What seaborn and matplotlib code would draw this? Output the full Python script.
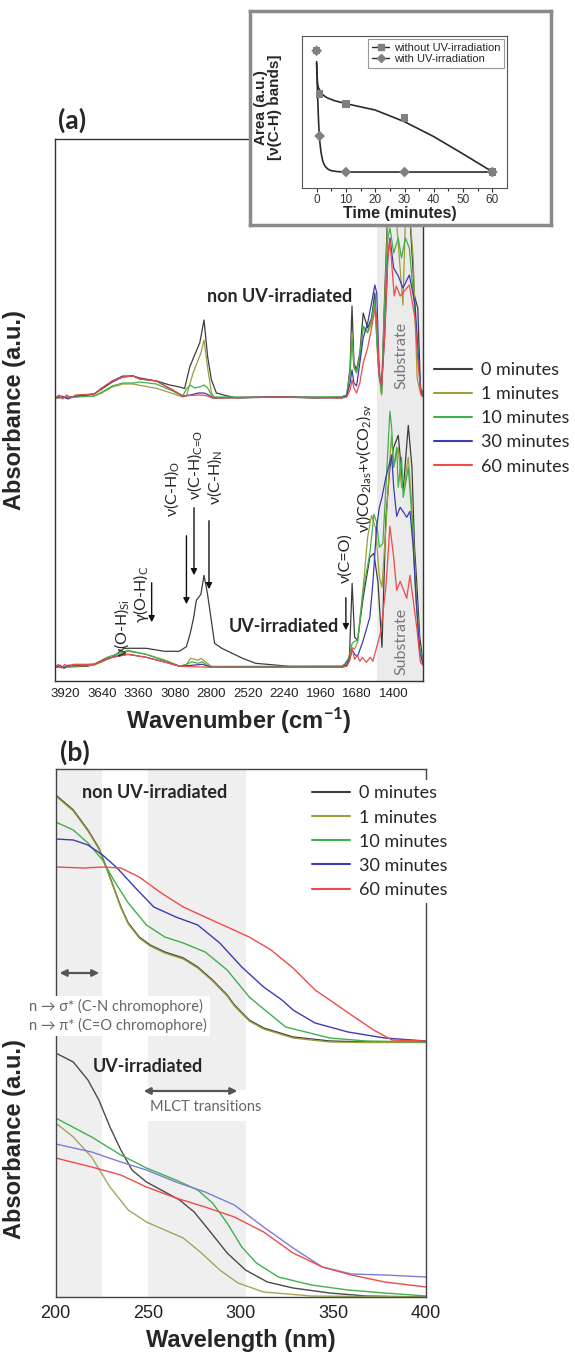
import pandas as pd
import seaborn as sns
import matplotlib.pyplot as plt
from matplotlib.lines import Line2D

# ---------------- data ----------------
times = ["0 minutes", "1 minutes", "10 minutes", "30 minutes", "60 minutes"]
colors = ["#3d3d3d", "#9d9d3c", "#3fb04e", "#3c3cae", "#f04a4a"]
colors_uv_bottom = ["#4a4a4a", "#a5a55a", "#3fb04e", "#7d7dd2", "#f04a4a"]

# FTIR (a), non UV-irradiated set: (wavenumber cm-1, absorbance above baseline)
ir_top_0 = [(4000, 0.0), (3900, 0.1), (3800, 0.2), (3700, 0.4), (3640, 0.9), (3560, 1.6), (3480, 2.1),
            (3400, 2.2), (3350, 2.0), (3220, 1.7), (3120, 1.3), (3043, 1.1), (3005, 0.95), (2966, 3.1),
            (2928, 4.3), (2889, 5.5), (2856, 7.8), (2828, 4.1), (2799, 1.8), (2761, 0.5), (2674, 0.2),
            (2600, 0.0), (2300, 0.1), (2000, 0.0), (1800, 0.1), (1760, 0.3), (1735, 3.0), (1720, 9.2),
            (1705, 3.5), (1685, 2.8), (1660, 4.5), (1634, 8.5), (1600, 7.0), (1570, 8.0), (1545, 10.5),
            (1520, 4.0), (1493, 0.5), (1470, 10.0), (1445, 19.0), (1429, 22.0), (1400, 19.5), (1365, 21.0),
            (1340, 17.5), (1310, 20.0), (1280, 19.0), (1240, 10.2), (1215, 9.0), (1195, 1.0), (1175, 0.5)]
ir_top_1 = [(4000, 0.0), (3700, 0.2), (3640, 0.5), (3560, 1.1), (3480, 1.4), (3400, 1.4), (3350, 1.27),
            (3222, 0.97), (3097, 0.45), (3020, 0.1), (2991, 0.2), (2940, 2.5), (2880, 4.5), (2856, 5.8),
            (2828, 3.0), (2799, 0.5), (2774, 0.0), (2300, 0.1), (1800, 0.1), (1760, 0.3), (1735, 2.5),
            (1720, 6.5), (1705, 3.0), (1685, 2.5), (1660, 4.0), (1634, 7.0), (1600, 6.5), (1570, 7.5),
            (1545, 9.5), (1520, 3.5), (1493, 0.3), (1470, 9.0), (1445, 18.0), (1429, 21.0), (1400, 18.5),
            (1380, 18.0), (1329, 9.3), (1310, 18.0), (1280, 19.0), (1250, 14.0), (1220, 2.0), (1195, 0.5),
            (1175, 0.3)]
ir_top_10 = [(4000, 0.0), (3700, 0.2), (3640, 0.6), (3560, 1.2), (3480, 1.5), (3400, 1.5), (3350, 1.6),
             (3222, 1.4), (3097, 0.7), (3020, 0.2), (2991, 0.9), (2960, 1.3), (2930, 1.0), (2890, 1.1),
             (2856, 1.3), (2828, 1.0), (2790, 0.1), (2300, 0.1), (1800, 0.1), (1760, 0.3), (1735, 2.5),
             (1720, 6.0), (1705, 3.0), (1685, 2.6), (1660, 4.2), (1634, 7.2), (1600, 6.6), (1570, 7.8),
             (1545, 9.8), (1520, 3.5), (1493, 0.4), (1470, 9.0), (1445, 16.0), (1429, 17.0), (1400, 14.5),
             (1365, 16.0), (1340, 14.0), (1310, 16.0), (1280, 15.0), (1240, 9.0), (1215, 5.0), (1195, 0.8),
             (1175, 0.3)]
ir_top_30 = [(4000, 0.0), (3950, 0.2), (3900, -0.1), (3850, 0.2), (3700, 0.4), (3640, 1.0), (3560, 1.7),
             (3480, 2.2), (3400, 2.2), (3350, 1.9), (3222, 1.7), (3097, 0.8), (3020, 0.2), (2960, 0.3),
             (2900, 0.5), (2856, 0.5), (2820, 0.3), (2790, 0.0), (2300, 0.1), (1800, 0.0), (1760, 0.2),
             (1735, 1.5), (1720, 2.8), (1705, 1.5), (1685, 1.2), (1660, 3.5), (1634, 6.0), (1600, 7.5),
             (1570, 9.5), (1545, 11.3), (1530, 10.5), (1510, 2.0), (1493, 1.2), (1470, 6.0), (1445, 14.0),
             (1429, 16.0), (1400, 13.0), (1365, 12.2), (1329, 11.0), (1280, 12.3), (1237, 9.5), (1210, 4.0),
             (1190, 0.5), (1175, 0.2)]
ir_top_60 = [(4000, 0.0), (3970, 0.3), (3940, -0.1), (3910, 0.3), (3880, 0.0), (3840, 0.3), (3700, 0.4),
             (3640, 1.0), (3560, 1.7), (3480, 2.1), (3400, 2.2), (3350, 1.9), (3222, 1.7), (3097, 0.8),
             (3020, 0.2), (2900, 0.3), (2856, 0.27), (2820, 0.15), (2790, 0.0), (2300, 0.1), (1800, 0.0),
             (1760, 0.1), (1735, 0.8), (1720, 1.8), (1705, 1.0), (1685, 0.5), (1660, 1.5), (1634, 3.5),
             (1600, 5.0), (1570, 7.0), (1545, 8.8), (1530, 8.0), (1510, 2.0), (1493, 1.2), (1470, 6.0),
             (1445, 14.0), (1429, 15.8), (1396, 10.2), (1380, 11.2), (1350, 10.2), (1280, 11.3), (1237, 8.0),
             (1210, 3.0), (1190, 0.3), (1175, 0.1)]

# FTIR (a), UV-irradiated set
ir_bot_0 = [(4000, 0.0), (3750, 0.1), (3650, 0.5), (3553, 1.06), (3470, 1.9), (3300, 1.9), (3160, 1.6),
            (3047, 1.6), (2991, 2.06), (2960, 3.5), (2935, 5.0), (2915, 6.7), (2880, 7.3), (2856, 9.2),
            (2830, 7.4), (2800, 4.7), (2775, 2.4), (2720, 1.9), (2640, 1.4), (2560, 0.9), (2460, 0.4),
            (2200, 0.1), (1800, 0.1), (1775, 0.3), (1740, 1.0), (1719, 8.4), (1700, 3.0), (1677, 2.7),
            (1634, 7.0), (1583, 11.0), (1552, 11.4), (1520, 8.4), (1490, 2.0), (1460, 15.0), (1429, 20.0),
            (1400, 22.0), (1365, 23.2), (1327, 17.7), (1288, 24.2), (1260, 20.0), (1240, 12.0),
            (1224, 8.7), (1200, 3.0), (1175, 0.5)]
ir_bot_1 = [(4000, 0.0), (3700, 0.2), (3600, 0.8), (3440, 1.6), (3300, 1.3), (3150, 0.7), (3040, 0.1),
            (2990, 0.3), (2960, 0.9), (2900, 0.7), (2880, 0.9), (2840, 0.5), (2800, 0.1), (1800, 0.1),
            (1760, 0.2), (1735, 0.8), (1719, 2.0), (1700, 1.8), (1677, 2.5), (1634, 8.0), (1600, 13.0),
            (1570, 15.2), (1540, 14.0), (1510, 9.0), (1490, 8.0), (1460, 14.0), (1429, 21.0), (1416, 23.2),
            (1400, 20.0), (1365, 22.0), (1340, 18.0), (1320, 17.7), (1300, 20.0), (1288, 21.0),
            (1260, 16.0), (1230, 8.0), (1200, 2.0), (1175, 0.5)]
ir_bot_10 = [(4000, 0.0), (3700, 0.3), (3600, 1.0), (3440, 1.7), (3300, 1.3), (3150, 0.6), (3040, 0.1),
             (2990, 0.3), (2950, 0.55), (2900, 0.4), (2870, 0.55), (2830, 0.2), (2800, 0.0), (1800, 0.1),
             (1760, 0.3), (1735, 1.5), (1719, 2.4), (1700, 2.6), (1677, 2.7), (1634, 7.7), (1583, 11.4),
             (1552, 15.3), (1531, 14.5), (1510, 12.0), (1483, 12.4), (1460, 18.0), (1429, 25.6),
             (1416, 24.0), (1400, 20.0), (1377, 22.0), (1365, 18.0), (1340, 21.0), (1327, 17.0),
             (1300, 19.0), (1288, 20.0), (1260, 15.0), (1230, 7.0), (1200, 2.0), (1175, 0.5)]
ir_bot_30 = [(4000, 0.0), (3960, 0.2), (3930, -0.1), (3900, 0.2), (3700, 0.3), (3600, 0.9), (3440, 1.3),
             (3300, 1.0), (3150, 0.5), (3040, 0.1), (2950, 0.2), (2870, 0.3), (2800, 0.0), (1800, 0.0),
             (1760, 0.2), (1735, 1.0), (1719, 1.7), (1700, 1.3), (1677, 1.1), (1634, 2.7), (1583, 5.0),
             (1560, 8.4), (1531, 14.0), (1510, 16.0), (1490, 17.0), (1460, 19.0), (1416, 21.2),
             (1400, 18.0), (1377, 15.1), (1350, 16.0), (1329, 15.6), (1300, 15.0), (1275, 15.6),
             (1250, 12.0), (1224, 6.0), (1200, 1.5), (1175, 0.3)]
ir_bot_60 = [(4000, 0.0), (3975, 0.3), (3950, -0.1), (3925, 0.3), (3895, 0.0), (3860, 0.3), (3700, 0.3),
             (3600, 0.9), (3440, 1.3), (3300, 1.0), (3150, 0.5), (3040, 0.1), (2800, 0.0), (1800, 0.0),
             (1760, 0.1), (1740, 0.6), (1719, 1.9), (1700, 0.8), (1680, 1.2), (1660, 0.6), (1640, 1.0),
             (1610, 0.5), (1580, 1.0), (1560, 0.6), (1531, 2.0), (1500, 3.5), (1460, 8.0), (1429, 14.1),
             (1400, 11.0), (1377, 7.7), (1350, 8.6), (1300, 6.9), (1275, 9.2), (1224, 4.1), (1195, 0.5),
             (1175, 0.2)]
ir_offset_top = 28.3
ir_offset_bottom = 1.37

# UV-vis (b): (wavelength nm, absorbance incl. stacking)
uv_top_0 = [(200, 50.2), (209.5, 48.7), (217.4, 46.7), (223.3, 44.9), (227.3, 43.0), (231.3, 41.0),
            (235.2, 39.0), (239.2, 37.4), (245.1, 36.0), (251, 35.2), (258.9, 34.5), (268.9, 33.9),
            (276.7, 33.0), (284.7, 31.7), (292.6, 30.2), (296.5, 29.2), (304.5, 27.7), (312.3, 26.9),
            (328.2, 26.0), (348, 25.6), (367.8, 25.5), (400, 25.5)]
uv_top_1 = [(200, 50.1), (209.5, 48.6), (217.4, 46.6), (223.3, 44.8), (227.3, 42.9), (231.3, 40.9),
            (235.2, 38.9), (239.2, 37.3), (245.1, 35.9), (251, 35.1), (258.9, 34.4), (268.9, 33.8),
            (276.7, 32.9), (284.7, 31.6), (292.6, 30.1), (296.5, 29.1), (304.5, 27.6), (312.3, 26.8),
            (328.2, 25.9), (348, 25.5), (367.8, 25.45), (400, 25.45)]
uv_top_10 = [(200, 47.5), (209.5, 46.7), (217.4, 45.4), (225.3, 43.7), (231.3, 41.7), (239.2, 39.4),
             (249.0, 37.2), (258.9, 36.0), (268.9, 35.4), (280.7, 34.5), (292.6, 32.7), (304.5, 30.0),
             (308.4, 29.4), (324.2, 27.0), (348, 25.9), (367.8, 25.6), (400, 25.5)]
uv_top_30 = [(200, 45.8), (209.5, 45.7), (217.4, 45.2), (225.3, 44.2), (233.2, 42.9), (243.1, 40.9),
             (253.0, 39.0), (264.9, 38.0), (276.7, 37.2), (288.6, 35.4), (300.5, 33.0), (312.3, 31.0),
             (322.2, 29.7), (328.2, 28.7), (340.1, 27.4), (357.9, 26.5), (377.7, 25.9), (400, 25.6)]
uv_top_60 = [(200, 43.0), (215.4, 42.9), (225.3, 43.0), (235.2, 42.9), (245.1, 42.0), (257.0, 40.4),
             (268.9, 39.0), (280.7, 38.0), (292.6, 37.0), (304.5, 36.0), (316.3, 34.7), (328.2, 32.9),
             (340.1, 30.7), (348, 29.7), (359.7, 28.2), (371.7, 26.7), (381.6, 25.7), (400, 25.6)]
uv_bot_0 = [(200, 24.4), (209.5, 23.5), (217.4, 21.7), (223.3, 19.7), (229.3, 17.0), (235.2, 14.7),
            (241.2, 12.7), (249.0, 11.5), (257.0, 10.7), (266.9, 9.7), (274.8, 8.5), (282.7, 6.7),
            (292.6, 4.4), (302.5, 2.7), (314.3, 1.5), (328.2, 0.9), (348, 0.4), (367.8, 0.1), (400, 0.0)]
uv_bot_1 = [(200, 17.4), (209.5, 16.0), (219.4, 14.0), (229.3, 11.0), (239.2, 8.7), (249.0, 7.5),
            (258.9, 6.7), (268.9, 5.9), (278.7, 4.4), (288.6, 2.7), (298.5, 1.4), (312.3, 0.5),
            (338.1, 0.1), (400, 0.0)]
uv_bot_10 = [(200, 17.9), (219.4, 16.0), (235.2, 14.2), (249.0, 12.9), (264.9, 11.7), (276.7, 10.7),
             (284.7, 9.4), (292.6, 7.4), (300.5, 5.0), (308.4, 3.4), (320.3, 2.0), (338.1, 1.2),
             (357.9, 0.7), (377.7, 0.4), (400, 0.1)]
uv_bot_30 = [(200, 15.3), (219.4, 14.5), (235.2, 13.5), (249.0, 12.7), (264.9, 11.5), (280.7, 10.5),
             (296.5, 9.2), (312.3, 7.0), (328.2, 4.9), (344.0, 3.0), (359.7, 2.3), (377.7, 2.2), (400, 2.0)]
uv_bot_60 = [(200, 13.9), (219.4, 13.0), (235.2, 12.2), (249.0, 11.0), (264.9, 9.9), (280.7, 9.0),
             (296.5, 8.0), (312.3, 6.5), (328.2, 4.4), (344.0, 3.0), (359.7, 2.2), (377.7, 1.5), (400, 1.0)]

# inset: area of v(C-H) bands vs time
t_points = [0, 1, 10, 30, 60]
area_without = [0.903, 0.618, 0.553, 0.46, 0.105]
area_with = [0.903, 0.342, 0.105, 0.105, 0.105]
fit_t_without = [0, 0.1, 0.3, 0.6, 1, 1.5, 2, 3, 4, 6, 10, 20, 30, 40, 50, 60]
fit_without = [0.831, 0.76, 0.689, 0.66, 0.645, 0.63, 0.616, 0.60, 0.590, 0.575, 0.555, 0.513, 0.436,
               0.338, 0.224, 0.107]
fit_t_with = [0, 0.25, 0.5, 0.75, 1, 1.5, 2, 2.5, 3, 4, 5, 7, 10, 30, 60]
fit_with = [0.82, 0.66, 0.513, 0.40, 0.316, 0.235, 0.184, 0.157, 0.14, 0.122, 0.114, 0.108, 0.105,
            0.105, 0.105]


def spectra_frame(curves, offset, group):
    rows = []
    for label, pts in zip(times, curves):
        for x, y in pts:
            rows.append({"x": x, "y": y + offset, "time": label, "set": group})
    return pd.DataFrame(rows)


sns.set_theme(style="white")
plt.rcParams["font.family"] = ["Liberation Sans", "DejaVu Sans"]
plt.rcParams["mathtext.fontset"] = "custom"
plt.rcParams["mathtext.rm"] = "Lato"
plt.rcParams["mathtext.it"] = "Lato:italic"
plt.rcParams["mathtext.bf"] = "Lato:bold"
CAL = ["Lato", "DejaVu Sans"]

W, H = 575, 1352
fig = plt.figure(figsize=(5.75, 13.52), dpi=100)


def box(l, t, r, b):
    return [l / W, 1 - b / H, (r - l) / W, (b - t) / H]


# ---------------- panel (a) ----------------
ax = fig.add_axes(box(55, 139.3, 423, 681))
ir_df = pd.concat([
    spectra_frame([ir_top_0, ir_top_1, ir_top_10, ir_top_30, ir_top_60], ir_offset_top, "top"),
    spectra_frame([ir_bot_0, ir_bot_1, ir_bot_10, ir_bot_30, ir_bot_60], ir_offset_bottom, "bottom"),
])
ax.axvspan(1525, 1175, color="#ebebeb", zorder=0, lw=0)
sns.lineplot(data=ir_df, x="x", y="y", hue="time", hue_order=times, palette=colors, units="set",
             estimator=None, sort=False, lw=0.9, legend=False, ax=ax)
ax.set_xlim(4000, 1175)
ax.set_ylim(0, 54.17)
ax.set_yticks([])
ax.set_xticks([3920, 3640, 3360, 3080, 2800, 2520, 2240, 1960, 1680, 1400])
ax.tick_params(axis="x", length=2, pad=3, labelsize=9.5, colors="#222")
for s in ax.spines.values():
    s.set_color("#333")
    s.set_linewidth(1)
ax.set_ylabel("Absorbance (a.u.)", fontsize=17, fontweight="bold")
ax.yaxis.set_label_coords(-0.08, 0.5)
ax.set_xlabel(r"Wavenumber (cm$^{\mathbf{-1}}$)", fontsize=17, fontweight="bold")
ax.xaxis.set_label_coords(0.5, -0.045)

ax.text(2835, 38.4, "non UV-irradiated", family=CAL, fontweight="bold", fontsize=13, va="center")
ax.text(2666, 5.5, "UV-irradiated", family=CAL, fontweight="bold", fontsize=13, va="center")
for yy in (32.6, 4.0):
    ax.text(1339, yy, "Substrate", family=CAL, fontsize=11.5, color="#777", rotation=90,
            ha="center", va="center")

rot_labels = [
    (3489, 2.4, r"ν(O-H)$_{\mathrm{Si}}$"),
    (3339, 5.8, r"γ(O-H)$_{\mathrm{C}}$"),
    (3104, 16.4, r"ν(C-H)$_{\mathrm{O}}$"),
    (2928, 18.1, r"ν(C-H)$_{\text{C=O}}$"),
    (2774, 17.6, r"ν(C-H)$_{\mathrm{N}}$"),
    (1768, 9.8, r"ν(C=O)"),
    (1633, 14.8, r"ν()CO$_{\mathrm{2las}}$+ν(CO$_{\mathrm{2}}$)$_{\mathrm{sv}}$"),
]
for x, y, s in rot_labels:
    ax.text(x, y, s, family=CAL, fontsize=11.5, rotation=90, ha="center", va="bottom")

arrows_a = [(3258, 10.1, 5.6), (2991, 14.8, 7.4), (2933, 17.6, 10.3), (2818, 16.3, 8.9), (1767, 8.6, 4.8)]
for x, y0, y1 in arrows_a:
    ax.annotate("", xy=(x, y1), xytext=(x, y0),
                arrowprops=dict(arrowstyle="-|>", color="#111", lw=1, mutation_scale=9))

handles = [Line2D([0], [0], color=c, lw=1.5) for c in colors]
ax.legend(handles, times, loc="upper left", bbox_to_anchor=(434 / W, 1 - 362 / H),
          bbox_transform=fig.transFigure, frameon=False, prop=dict(family="Lato", size=13),
          handlelength=2.1, handletextpad=0.5, labelspacing=0.45, borderpad=0, borderaxespad=0)

fig.text(58 / W, 1 - 120 / H, "(a)", family=CAL, fontweight="bold", fontsize=19, va="center")

# ---------------- inset ----------------
frame = fig.add_axes(box(250, 11, 551, 225), zorder=5)
frame.set_facecolor("white")
frame.set_xticks([])
frame.set_yticks([])
for s in frame.spines.values():
    s.set_color("#8a8a8a")
    s.set_linewidth(2.5)

ins = fig.add_axes(box(302, 36, 507, 188), zorder=6)
sns.lineplot(x=fit_t_without, y=fit_without, color="#2a2a2a", lw=1.2, estimator=None, sort=False, ax=ins)
sns.lineplot(x=fit_t_with, y=fit_with, color="#2a2a2a", lw=1.2, estimator=None, sort=False, ax=ins)
sns.scatterplot(x=t_points, y=area_without, marker="s", color="#808080", s=28, edgecolor="none", ax=ins,
                zorder=3)
sns.scatterplot(x=t_points, y=area_with, marker="D", color="#808080", s=30, edgecolor="none", ax=ins,
                zorder=3)
ins.set_xlim(-5, 65)
ins.set_ylim(0, 1)
ins.set_yticks([])
ins.set_xticks([0, 10, 20, 30, 40, 50, 60])
ins.set_xticks([5, 15, 25, 35, 45, 55], minor=True)
ins.tick_params(axis="x", which="both", direction="out", bottom=True, length=3, width=0.8,
                labelsize=8.5, colors="#333", pad=1.5)
ins.tick_params(axis="x", which="minor", length=2)
for s in ins.spines.values():
    s.set_color("#555")
    s.set_linewidth(0.8)
ins.set_xlabel("Time (minutes)", fontsize=11.5, fontweight="bold")
ins.xaxis.set_label_coords(0.475, -0.12)
ins.set_ylabel("Area (a.u.)\n[ν(C-H) bands]", fontsize=11, fontweight="bold", linespacing=1.0)
ins.yaxis.set_label_coords(-0.1, 0.53)
ins_handles = [
    Line2D([0], [0], color="#2a2a2a", lw=1, marker="s", mfc="#808080", mec="#808080", ms=4.5),
    Line2D([0], [0], color="#2a2a2a", lw=1, marker="D", mfc="#808080", mec="#808080", ms=4.5),
]
leg = ins.legend(ins_handles, ["without UV-irradiation", "with UV-irradiation"], loc="upper right",
                 fontsize=8, handlelength=1.6, handletextpad=0.4, labelspacing=0.15, borderpad=0.3,
                 borderaxespad=0.3, fancybox=False, framealpha=1)
leg.get_frame().set_edgecolor("#999")
leg.get_frame().set_linewidth(0.8)

# ---------------- panel (b) ----------------
bx = fig.add_axes(box(55.7, 769.3, 426, 1297))
uv_top_df = spectra_frame([uv_top_0, uv_top_1, uv_top_10, uv_top_30, uv_top_60], 0, "top")
uv_bot_df = spectra_frame([uv_bot_0, uv_bot_1, uv_bot_10, uv_bot_30, uv_bot_60], 0, "bottom")
bx.axvspan(200, 225, color="#efefef", zorder=0, lw=0)
bx.axvspan(250, 303, ymin=0, ymax=0.334, color="#efefef", zorder=0, lw=0)
bx.axvspan(250, 303, ymin=0.392, ymax=1, color="#efefef", zorder=0, lw=0)
sns.lineplot(data=uv_top_df, x="x", y="y", hue="time", hue_order=times, palette=colors,
             estimator=None, sort=False, lw=1.0, legend=False, ax=bx)
sns.lineplot(data=uv_bot_df, x="x", y="y", hue="time", hue_order=times, palette=colors_uv_bottom,
             estimator=None, sort=False, lw=1.0, legend=False, ax=bx)
bx.set_xlim(200, 400)
bx.set_ylim(0, 52.77)
bx.set_yticks([])
bx.set_xticks([200, 250, 300, 350, 400])
bx.tick_params(axis="x", length=0, pad=6, labelsize=13, colors="#222")
for s in bx.spines.values():
    s.set_color("#444")
    s.set_linewidth(1)
bx.set_ylabel("Absorbance (a.u.)", fontsize=17, fontweight="bold")
bx.yaxis.set_label_coords(-0.081, 0.30)
bx.set_xlabel("Wavelength (nm)", fontsize=17, fontweight="bold")
bx.xaxis.set_label_coords(0.5, -0.06)

bx.text(214.2, 50.5, "non UV-irradiated", family=CAL, fontweight="bold", fontsize=13, va="center")
bx.text(220.1, 23.0, "UV-irradiated", family=CAL, fontweight="bold", fontsize=13, va="center")
bx.text(185.6, 28.1, "n → σ* (C-N chromophore)\nn → π* (C=O chromophore)", family=CAL, fontsize=10.5,
        color="#666", va="center", ha="left", linespacing=1.35, clip_on=False, zorder=4,
        bbox=dict(facecolor="white", edgecolor="none", pad=2))
bx.text(251, 19.0, "MLCT transitions", family=CAL, fontsize=10.5, color="#666", va="center")
for x0, x1, y in [(200.6, 225, 32.4), (246, 299.6, 20.6)]:
    bx.annotate("", xy=(x1, y), xytext=(x0, y),
                arrowprops=dict(arrowstyle="<|-|>", color="#555", lw=1.6, mutation_scale=10))

bx.legend(handles, times, loc="upper left", bbox_to_anchor=(307 / W, 1 - 780 / H),
          bbox_transform=fig.transFigure, frameon=True, facecolor="white", edgecolor="none",
          framealpha=1, fancybox=False, prop=dict(family="Lato", size=13),
          handlelength=2.1, handletextpad=0.5, labelspacing=0.45, borderpad=0.3, borderaxespad=0)

fig.text(60 / W, 1 - 752 / H, "(b)", family=CAL, fontweight="bold", fontsize=19, va="center")

fig.savefig("out.png", dpi=100)
